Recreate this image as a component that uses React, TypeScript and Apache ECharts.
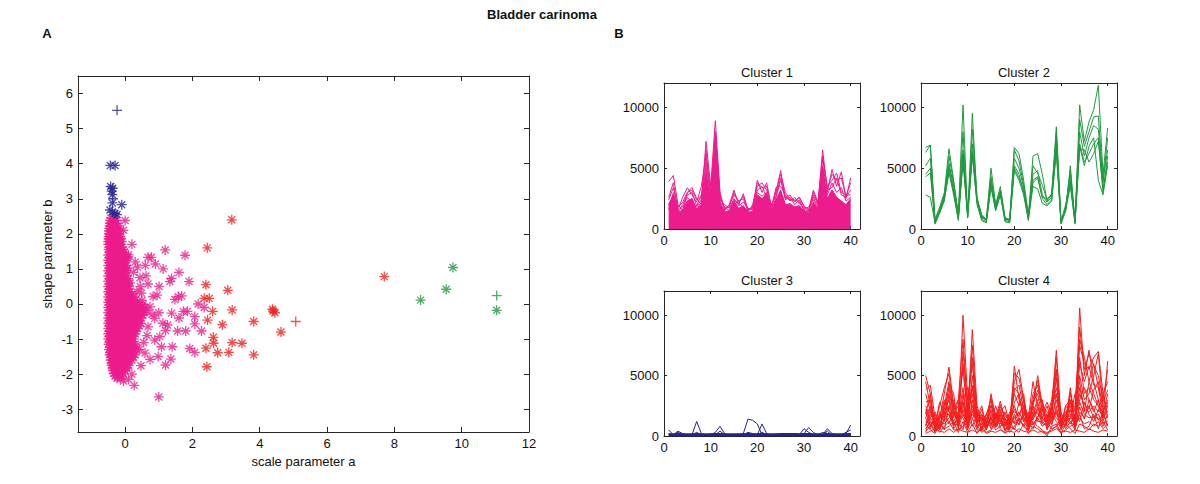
import React, { useEffect, useRef } from "react";
import * as echarts from "echarts";

// ---------- Panel A: scatter data ----------
// dense core of cluster 1 (pink): rows of [shape b, scale a values]
const pinkCoreRows: [number, number[]][] = [
  [2.45, [-0.42, -0.32]],
  [2.3, [-0.45, -0.36, -0.27]],
  [2.15, [-0.47, -0.38, -0.29, -0.21]],
  [2.0, [-0.48, -0.39, -0.3, -0.2]],
  [1.85, [-0.49, -0.4, -0.31, -0.22, -0.13]],
  [1.7, [-0.5, -0.41, -0.32, -0.23, -0.14]],
  [1.55, [-0.49, -0.4, -0.31, -0.22, -0.13, -0.06]],
  [1.4, [-0.5, -0.41, -0.32, -0.23, -0.14, -0.05]],
  [1.25, [-0.5, -0.41, -0.32, -0.23, -0.14, -0.05, 0.02]],
  [1.1, [-0.5, -0.41, -0.32, -0.23, -0.14, -0.05, 0.03]],
  [0.95, [-0.5, -0.41, -0.32, -0.23, -0.14, -0.05, 0.04]],
  [0.8, [-0.5, -0.41, -0.32, -0.23, -0.14, -0.05, 0.05]],
  [0.65, [-0.5, -0.41, -0.32, -0.23, -0.14, -0.05, 0.06]],
  [0.5, [-0.5, -0.41, -0.32, -0.23, -0.14, -0.05, 0.05, 0.12]],
  [0.35, [-0.5, -0.41, -0.32, -0.23, -0.14, -0.05, 0.05, 0.14]],
  [0.2, [-0.5, -0.41, -0.32, -0.23, -0.14, -0.05, 0.05, 0.15, 0.25]],
  [0.05, [-0.5, -0.41, -0.32, -0.23, -0.14, -0.05, 0.05, 0.15, 0.26, 0.36]],
  [-0.1, [-0.5, -0.41, -0.32, -0.23, -0.14, -0.05, 0.05, 0.15, 0.26, 0.37, 0.48, 0.6]],
  [-0.25, [-0.5, -0.41, -0.32, -0.23, -0.14, -0.05, 0.05, 0.15, 0.26, 0.37, 0.48, 0.56]],
  [-0.4, [-0.5, -0.41, -0.32, -0.23, -0.14, -0.05, 0.05, 0.15, 0.26, 0.37, 0.48]],
  [-0.55, [-0.5, -0.41, -0.32, -0.23, -0.14, -0.05, 0.05, 0.15, 0.26, 0.37, 0.46]],
  [-0.7, [-0.5, -0.41, -0.32, -0.23, -0.14, -0.05, 0.05, 0.15, 0.26, 0.37]],
  [-0.85, [-0.5, -0.41, -0.32, -0.23, -0.14, -0.05, 0.05, 0.15, 0.24, 0.3]],
  [-1.0, [-0.5, -0.41, -0.32, -0.23, -0.14, -0.05, 0.05, 0.15, 0.26]],
  [-1.15, [-0.49, -0.4, -0.31, -0.22, -0.13, -0.04, 0.06, 0.16, 0.3]],
  [-1.3, [-0.48, -0.39, -0.3, -0.21, -0.12, -0.03, 0.07, 0.17, 0.26, 0.34]],
  [-1.45, [-0.46, -0.37, -0.28, -0.19, -0.1, -0.01, 0.09, 0.2, 0.3]],
  [-1.6, [-0.43, -0.34, -0.25, -0.16, -0.07, 0.02, 0.12, 0.2]],
  [-1.75, [-0.4, -0.31, -0.22, -0.13, -0.04, 0.05, 0.1]],
  [-1.9, [-0.36, -0.27, -0.18, -0.09, 0.0]],
  [-2.05, [-0.3, -0.2, -0.1]],
];
// staggered in-between rows of the same dense core
const pinkCoreRowsB: [number, number[]][] = [
  [2.38, [-0.44, -0.35, -0.26]],
  [2.22, [-0.46, -0.37, -0.28, -0.2]],
  [2.08, [-0.48, -0.39, -0.3, -0.21, -0.15]],
  [1.92, [-0.49, -0.4, -0.31, -0.22, -0.14]],
  [1.78, [-0.5, -0.41, -0.32, -0.23, -0.15, -0.1]],
  [1.62, [-0.46, -0.37, -0.28, -0.19, -0.1]],
  [1.48, [-0.46, -0.37, -0.28, -0.19, -0.1, -0.02]],
  [1.32, [-0.46, -0.37, -0.28, -0.19, -0.1, -0.01, 0.06]],
  [1.18, [-0.46, -0.37, -0.28, -0.19, -0.1, -0.01]],
  [1.02, [-0.46, -0.37, -0.28, -0.19, -0.1, -0.01, 0.08]],
  [0.88, [-0.46, -0.37, -0.28, -0.19, -0.1, -0.01]],
  [0.72, [-0.46, -0.37, -0.28, -0.19, -0.1, -0.01, 0.09]],
  [0.58, [-0.46, -0.37, -0.28, -0.19, -0.1, -0.01, 0.08]],
  [0.42, [-0.46, -0.37, -0.28, -0.19, -0.1, -0.01, 0.09]],
  [0.28, [-0.46, -0.37, -0.28, -0.19, -0.1, -0.01, 0.1, 0.2]],
  [0.12, [-0.46, -0.37, -0.28, -0.19, -0.1, -0.01, 0.1, 0.2, 0.31]],
  [-0.02, [-0.46, -0.37, -0.28, -0.19, -0.1, -0.01, 0.1, 0.2, 0.31, 0.42, 0.53]],
  [-0.18, [-0.46, -0.37, -0.28, -0.19, -0.1, -0.01, 0.1, 0.2, 0.31, 0.42, 0.53, 0.64]],
  [-0.32, [-0.46, -0.37, -0.28, -0.19, -0.1, -0.01, 0.1, 0.2, 0.31, 0.42, 0.52]],
  [-0.48, [-0.46, -0.37, -0.28, -0.19, -0.1, -0.01, 0.1, 0.2, 0.31, 0.42]],
  [-0.62, [-0.46, -0.37, -0.28, -0.19, -0.1, -0.01, 0.1, 0.2, 0.31, 0.42]],
  [-0.78, [-0.46, -0.37, -0.28, -0.19, -0.1, -0.01, 0.1, 0.2, 0.31]],
  [-0.92, [-0.46, -0.37, -0.28, -0.19, -0.1, -0.01, 0.1, 0.2]],
  [-1.08, [-0.46, -0.37, -0.28, -0.19, -0.1, -0.01, 0.1, 0.2]],
  [-1.22, [-0.45, -0.36, -0.27, -0.18, -0.09, 0.0, 0.11, 0.22, 0.3]],
  [-1.38, [-0.44, -0.35, -0.26, -0.17, -0.08, 0.01, 0.12, 0.24]],
  [-1.52, [-0.42, -0.33, -0.24, -0.15, -0.06, 0.03, 0.14, 0.24]],
  [-1.68, [-0.4, -0.31, -0.22, -0.13, -0.04, 0.06]],
  [-1.82, [-0.37, -0.28, -0.19, -0.1, -0.01, 0.06]],
  [-1.98, [-0.33, -0.24, -0.15, -0.06]],
  [-2.12, [-0.24, -0.14]],
];

// scattered points of cluster 1 (pink): [scale a, shape b]
const pinkOuter: number[][] = [
  [0.0, 2.38], [0.1, 1.4], [1.19, 1.54], [1.78, 1.39], [0.68, 1.33], [0.78, 1.33],
  [0.9, 1.14], [0.37, 1.05], [1.13, 1.0], [0.09, 1.35], [1.6, 0.9], [0.44, 0.75],
  [0.62, 0.8], [1.33, 0.64], [1.38, 0.73], [1.9, 0.64], [1.01, 0.5], [0.68, 0.57],
  [0.49, 0.31], [1.58, 0.21], [1.68, 0.23], [1.48, 0.13], [0.83, 0.21], [2.17, 0.0],
  [2.35, -0.1], [1.73, -0.21], [1.85, -0.21], [1.38, -0.26], [1.0, -0.25], [0.74, -0.08],
  [2.07, -0.36], [1.6, -0.4], [2.07, -0.57], [2.27, -0.77], [1.56, -0.77], [1.8, -0.77],
  [1.2, -0.76], [1.26, -0.6], [1.12, -0.55], [0.68, -0.65], [0.88, -0.41], [1.4, -1.22],
  [1.92, -1.27], [2.07, -1.38], [1.36, -1.57], [1.2, -1.74], [0.98, -1.5], [0.74, -1.58],
  [0.59, -1.4], [0.47, -1.76], [0.27, -2.32], [1.0, -2.65], [1.08, -1.22], [0.88, -1.03],
  [1.03, -0.93], [0.25, 0.9], [0.15, 0.6], [0.35, 0.35], [0.45, 0.5], [0.3, 1.2],
  [0.55, -1.1], [0.42, -1.3], [0.65, -0.9], [0.2, -2.0], [0.1, -2.15], [-0.05, -2.2],
  [0.5, 0.1], [0.8, -0.3], [0.95, 0.25], [0.2, 1.7], [-0.05, 2.1], [0.6, 1.1],
];

// cluster 3 (navy)
const blueStar: number[][] = [
  [-0.44, 3.95], [-0.3, 3.95], [-0.43, 3.35], [-0.37, 3.3], [-0.4, 3.22], [-0.38, 3.12],
  [-0.38, 2.88], [-0.1, 2.83], [-0.45, 2.68], [-0.38, 2.62], [-0.3, 2.58], [-0.24, 2.55],
];
const bluePlus: number[][] = [[-0.24, 5.52], [-0.36, 3.0]];

// cluster 4 (red)
const redStar: number[][] = [
  [3.17, 2.4], [2.44, 1.6], [7.7, 0.78], [2.4, 0.55], [3.05, 0.39], [2.35, 0.16], [2.5, 0.16],
  [2.6, -0.21], [3.18, -0.17], [4.38, -0.15], [4.45, -0.25], [4.4, -0.2], [2.45, -0.46],
  [2.89, -0.59], [3.82, -0.5], [4.63, -0.8], [2.62, -0.95], [2.63, -1.12], [3.18, -1.1],
  [3.47, -1.12], [2.4, -1.26], [2.75, -1.39], [3.08, -1.38], [3.82, -1.45], [2.43, -1.79],
];
const redPlus: number[][] = [[5.07, -0.5]];

// cluster 2 (green)
const greenStar: number[][] = [[8.78, 0.11], [9.54, 0.42], [9.74, 1.04], [11.04, -0.18]];
const greenPlus: number[][] = [[11.04, 0.24]];

const scatterXTicks = [0, 2, 4, 6, 8, 10, 12];
const scatterYTicks = [-3, -2, -1, 0, 1, 2, 3, 4, 5, 6];

// ---------- Panel B: expression profiles over 40 samples ----------
const profileXTicks = [0, 10, 20, 30, 40];
const profileYTicks = [0, 5000, 10000];

const cluster1Fill = [2000, 2800, 1400, 1500, 2300, 2500, 1600, 2000, 4500, 2000, 7500, 2200, 1400, 1500, 2300, 1700, 1900, 1400, 1400, 2800, 2500, 2900, 1500, 2400, 3200, 2000, 2000, 1800, 1900, 1500, 1300, 2200, 1600, 5000, 2500, 3200, 2600, 2300, 2000, 2500];
const cluster1Lines: number[][] = [
  [3900, 4400, 2000, 1500, 3000, 3400, 2500, 2000, 7200, 3500, 8900, 3000, 1500, 2000, 3200, 2000, 2900, 1500, 1800, 4000, 3000, 3800, 1800, 3000, 4800, 2500, 2800, 2200, 2600, 1800, 1500, 3200, 2200, 6500, 3000, 4900, 3500, 4700, 2500, 4200],
  [2600, 3800, 1600, 2600, 3400, 2800, 2200, 3500, 6000, 2800, 8000, 2800, 1600, 2000, 2800, 2300, 2500, 1400, 2000, 3500, 3800, 3200, 2000, 2700, 4200, 2400, 2600, 2000, 2400, 1500, 1400, 2800, 2000, 5800, 3500, 4000, 4600, 3000, 2800, 2800],
  [2000, 2800, 1400, 2000, 2800, 3000, 1900, 2800, 4500, 2200, 6500, 2400, 2000, 1700, 2500, 1900, 2200, 1700, 1600, 3000, 2700, 3000, 1600, 3400, 3500, 2800, 2300, 2600, 2100, 1700, 1800, 2400, 1600, 4500, 2800, 3800, 3000, 3400, 2300, 2600],
  [1800, 2200, 1200, 1600, 2300, 2500, 1600, 2200, 5000, 1800, 7800, 2000, 1300, 1400, 2200, 1600, 1900, 1300, 1500, 2700, 2400, 2900, 1400, 2400, 3000, 2000, 2100, 1800, 1900, 1400, 1300, 2100, 1500, 4800, 2400, 3200, 2600, 2200, 2000, 2400],
  [1600, 3000, 1500, 1800, 2600, 2200, 1800, 2400, 5500, 2500, 7000, 2200, 1800, 1500, 2400, 2100, 1800, 1500, 1800, 3200, 3500, 2600, 1500, 2600, 4000, 2600, 2400, 2400, 2200, 1600, 1500, 2600, 1800, 5200, 3200, 3400, 4200, 2800, 2600, 3200],
  [2400, 3400, 1800, 2200, 3000, 3200, 2400, 2600, 6500, 3000, 7500, 2600, 1700, 1800, 3000, 2200, 2700, 1600, 1700, 3800, 3400, 3500, 1800, 3200, 4500, 3000, 2500, 2300, 2600, 1900, 1600, 3000, 2100, 6000, 3300, 4500, 4000, 4200, 2700, 3800],
];

const cluster2Lines: number[][] = [
  [6300, 6900, 800, 1800, 3000, 6600, 4000, 1200, 10200, 1000, 9500, 2500, 1200, 800, 5000, 2000, 3500, 1000, 600, 6700, 6200, 4000, 1200, 3800, 4200, 2600, 2500, 2800, 8400, 700, 1500, 5200, 600, 10200, 7200, 8800, 9800, 11800, 4500, 8300],
  [5200, 5800, 500, 1500, 2600, 5400, 3500, 900, 6500, 1200, 7000, 2200, 1000, 700, 4000, 1800, 3200, 800, 700, 5800, 5000, 3400, 900, 4500, 4800, 2800, 2200, 2600, 7500, 500, 1800, 4500, 500, 8000, 6000, 7500, 8500, 8200, 4000, 6500],
  [4500, 5000, 400, 1300, 2300, 4900, 3000, 700, 5800, 900, 6200, 2000, 700, 500, 3600, 1500, 2800, 600, 500, 5200, 4500, 3000, 700, 4000, 4300, 2500, 2000, 2400, 7000, 400, 1500, 4000, 400, 7000, 5500, 6200, 7000, 7500, 3000, 6000],
  [4300, 4600, 600, 1600, 2800, 5100, 3200, 1000, 6200, 1300, 6400, 2400, 900, 800, 3700, 1700, 3000, 900, 800, 5000, 4200, 3200, 1000, 6000, 6200, 4500, 2300, 2800, 6500, 600, 2000, 3800, 700, 6600, 6500, 5500, 6200, 7200, 3300, 5500],
  [2800, 2600, 500, 1400, 2500, 4600, 2800, 800, 5500, 1100, 6000, 2300, 800, 600, 3400, 1600, 2900, 700, 600, 4800, 4000, 2800, 800, 3500, 3300, 2100, 1900, 2300, 6200, 500, 1600, 3500, 500, 6800, 5200, 6800, 7500, 4000, 2800, 5200],
  [6700, 6900, 700, 1500, 2700, 6000, 3800, 1100, 8000, 1000, 8200, 2600, 1100, 700, 4300, 1900, 3100, 800, 800, 6500, 5600, 3600, 1000, 5200, 4600, 3600, 2400, 2900, 8000, 600, 1700, 4800, 600, 9000, 6800, 8000, 9200, 9300, 3800, 7500],
];

const cluster3Lines: number[][] = [
  [500, 100, 400, 200, 100, 100, 1200, 200, 100, 100, 300, 800, 200, 100, 100, 100, 200, 1400, 1300, 1000, 100, 100, 100, 100, 100, 100, 100, 100, 100, 200, 700, 300, 100, 100, 600, 200, 100, 100, 200, 900],
  [200, 100, 200, 100, 100, 100, 300, 100, 100, 100, 100, 400, 100, 100, 100, 100, 100, 300, 200, 100, 1000, 200, 100, 100, 100, 200, 200, 100, 100, 600, 300, 100, 100, 300, 200, 100, 100, 100, 300, 500],
  [100, 50, 300, 80, 60, 50, 100, 80, 50, 60, 80, 150, 80, 60, 50, 60, 80, 100, 80, 80, 300, 100, 60, 60, 70, 80, 70, 60, 60, 120, 100, 60, 60, 80, 400, 60, 60, 50, 80, 150],
  [150, 120, 150, 100, 120, 100, 150, 120, 100, 120, 150, 200, 120, 100, 120, 150, 100, 150, 120, 120, 200, 120, 100, 150, 200, 200, 200, 200, 150, 150, 200, 120, 100, 120, 150, 120, 100, 120, 150, 200],
];
const cluster3Base = [110, 110, 120, 110, 110, 110, 120, 110, 110, 110, 120, 130, 110, 110, 110, 110, 110, 120, 110, 110, 130, 110, 110, 110, 110, 120, 120, 120, 110, 120, 120, 110, 110, 110, 120, 110, 110, 110, 110, 130];

const cluster4Lines: number[][] = [
  [5000, 3500, 800, 1500, 3500, 5700, 2500, 1200, 10000, 3000, 6000, 1500, 2500, 800, 3500, 1500, 2900, 1200, 800, 5800, 3000, 2000, 800, 2500, 5000, 2500, 1200, 2500, 7100, 1500, 1200, 4000, 800, 10600, 5000, 7100, 4500, 3000, 1500, 6200],
  [3800, 4200, 1500, 800, 2500, 4500, 1800, 2500, 5500, 1500, 8800, 2500, 1200, 1800, 2500, 1200, 2400, 1700, 1200, 4500, 5500, 3000, 1200, 3500, 4200, 2000, 2800, 1800, 5500, 800, 2500, 3000, 1500, 7500, 6000, 5500, 6500, 7000, 3500, 4500],
  [2500, 1500, 2000, 1000, 2000, 3000, 1000, 1500, 4000, 800, 5000, 1200, 1800, 600, 1500, 2000, 1500, 800, 1500, 3500, 2500, 3500, 600, 2800, 3500, 1500, 1000, 2200, 4000, 2000, 1000, 3500, 2000, 6500, 3500, 4000, 3000, 2500, 2000, 3000],
  [1500, 2500, 500, 2000, 1500, 2500, 3000, 800, 2500, 2000, 3500, 800, 1000, 1500, 2000, 800, 1800, 1500, 500, 2800, 3500, 1500, 1500, 2000, 3000, 3000, 500, 1500, 3000, 1200, 2000, 2500, 800, 5000, 3000, 3500, 5000, 6800, 2500, 2000],
  [800, 1800, 1200, 500, 2800, 2000, 1500, 3000, 1800, 1200, 2500, 1500, 600, 1200, 1000, 1500, 2200, 1000, 1800, 2000, 1800, 2500, 800, 1500, 2200, 1800, 1500, 1000, 2500, 500, 1500, 1800, 1200, 4000, 2200, 2000, 2500, 2000, 3500, 1500],
  [2000, 800, 1500, 1200, 1000, 1500, 2000, 1000, 3500, 800, 2000, 2000, 1500, 500, 1800, 1200, 1000, 2000, 1000, 1500, 2000, 1200, 2000, 1000, 1500, 2500, 2000, 1500, 1800, 1500, 800, 1500, 1500, 3000, 4000, 3000, 2000, 3000, 1200, 2500],
  [1200, 1000, 300, 1800, 1200, 3500, 800, 1800, 1500, 500, 3000, 1000, 2200, 1000, 800, 1800, 1200, 500, 1200, 1200, 1000, 2000, 1000, 2500, 1200, 1200, 800, 2000, 1500, 1000, 1800, 1200, 500, 2000, 1500, 2500, 1500, 1500, 800, 1800],
  [300, 1500, 800, 300, 800, 1200, 500, 500, 800, 1500, 1500, 500, 500, 800, 1200, 500, 800, 1200, 300, 800, 1500, 800, 500, 1200, 800, 500, 0, 800, 1000, 300, 500, 800, 1000, 1500, 1000, 1200, 800, 1200, 600, 1000],
  [4500, 2500, 1000, 2500, 4000, 5200, 2200, 3000, 8000, 2200, 7500, 1800, 1500, 1000, 3200, 1400, 2600, 1400, 1000, 5200, 4800, 2800, 1000, 3000, 4600, 2200, 1500, 2200, 6500, 1200, 1500, 3600, 1200, 9000, 5500, 6800, 5800, 5000, 3000, 5500],
  [1000, 500, 200, 1000, 600, 800, 1200, 300, 1200, 300, 1000, 200, 800, 300, 500, 1000, 600, 200, 800, 600, 300, 1000, 200, 800, 600, 300, 200, 500, 800, 200, 1000, 600, 200, 1000, 800, 500, 1000, 800, 1200, 500],
  [2800, 3000, 600, 1400, 2200, 4000, 1600, 2000, 6000, 1800, 6500, 1200, 1400, 900, 2600, 1600, 2000, 1000, 900, 3800, 4200, 2200, 900, 2600, 3800, 2800, 1600, 1800, 4800, 900, 1400, 3000, 1000, 6000, 4500, 5800, 4200, 4000, 2800, 3800],
  [600, 1200, 400, 800, 1800, 1800, 900, 1000, 2200, 700, 2200, 900, 300, 600, 1500, 700, 1400, 600, 600, 1800, 1200, 1600, 400, 1800, 2000, 1000, 900, 1200, 2000, 600, 900, 2200, 600, 2800, 1800, 1500, 1600, 1800, 1000, 1200],
  [3500, 2000, 1000, 500, 1500, 4200, 3500, 500, 7000, 2500, 4000, 2000, 600, 1800, 3000, 800, 2000, 2500, 1000, 4000, 3500, 1200, 1500, 4500, 2500, 1000, 1500, 3000, 5500, 800, 2500, 2000, 2500, 8000, 6500, 4500, 6000, 4000, 1800, 3500],
  [1800, 3500, 500, 1500, 3000, 2000, 1200, 2000, 3000, 4000, 2500, 1000, 1800, 1200, 1200, 2500, 1200, 800, 2000, 1000, 2800, 2500, 600, 2000, 1800, 1500, 2500, 1200, 3500, 1800, 1200, 1500, 3500, 4500, 2000, 4500, 3500, 2500, 1500, 2800],
  [400, 800, 1500, 1200, 500, 2500, 600, 1200, 500, 2500, 800, 1800, 400, 1500, 600, 1200, 1800, 400, 1200, 500, 1500, 800, 1200, 600, 1500, 800, 1200, 600, 800, 1500, 600, 1200, 800, 1800, 600, 800, 1800, 600, 2000, 800],
  [2200, 1200, 800, 2800, 1800, 3200, 2600, 1500, 2800, 1000, 4200, 600, 1600, 800, 2200, 1000, 1600, 1800, 1400, 2200, 1600, 3000, 1200, 1600, 2800, 1400, 1200, 2600, 3500, 1200, 800, 2800, 1400, 3500, 2600, 2200, 3800, 4500, 2200, 2600],
  [900, 2200, 1000, 1500, 2000, 1000, 2200, 700, 1800, 900, 1800, 1400, 900, 1800, 900, 1900, 700, 1500, 600, 1600, 900, 1800, 1500, 900, 1600, 2200, 600, 1800, 1200, 700, 1500, 1000, 1800, 1200, 2800, 1800, 1200, 2200, 1600, 2000],
  [1500, 600, 1800, 600, 1300, 1800, 900, 1500, 2800, 600, 1400, 2200, 1100, 600, 1600, 800, 1300, 900, 1600, 2500, 1300, 900, 1800, 1300, 2400, 1200, 1800, 900, 2200, 1300, 1800, 1600, 900, 2400, 1400, 3000, 2200, 1300, 1800, 900],
  [200, 400, 600, 400, 300, 600, 300, 600, 400, 300, 500, 300, 600, 200, 400, 300, 500, 300, 400, 300, 600, 400, 300, 500, 300, 400, 300, 400, 600, 300, 400, 300, 500, 400, 300, 600, 400, 300, 500, 400],
];

const PINK = "#EC1C8C";
const NAVY = "#24248E";
const RED = "#F81C1C";
const GREEN = "#1F9A3E";
const FONT = '"Liberation Sans", Arial, Helvetica, sans-serif';
const AXIS = "#262626";

const ASTERISK = "path://M5 0L5 10M0 5L10 5M1.5 1.5L8.5 8.5M8.5 1.5L1.5 8.5";
const PLUS = "path://M5 0L5 10M0 5L10 5";

function axisPair(kind: "x" | "y", grid: number, min: number, max: number, ticks: number[], tickLen: number) {
  const line = { show: true, onZero: false, lineStyle: { color: AXIS, width: 1 } };
  const main = {
    gridIndex: grid,
    type: "value",
    position: kind === "x" ? "bottom" : "left",
    min,
    max,
    axisLine: line,
    axisTick: { show: true, inside: true, length: tickLen, customValues: ticks, lineStyle: { color: AXIS } },
    axisLabel: {
      show: true,
      customValues: ticks,
      color: "#111",
      fontSize: 13,
      fontFamily: FONT,
      margin: 5,
      formatter: (v: number) => String(v),
    },
    splitLine: { show: false },
  };
  const opp = {
    gridIndex: grid,
    type: "value",
    position: kind === "x" ? "top" : "right",
    min,
    max,
    axisLine: line,
    axisTick: { show: true, inside: true, length: tickLen, customValues: ticks, lineStyle: { color: AXIS } },
    axisLabel: { show: false },
    splitLine: { show: false },
  };
  return [main, opp];
}

const toXY = (vals: number[]) => vals.map((v, i) => [i + 1, v]);

export default function App() {
  const ref = useRef<HTMLDivElement>(null);
  useEffect(() => {
    if (!ref.current) return;
    const chart = echarts.init(ref.current, null, { renderer: "svg" });

    const grids = [
      { left: 78, top: 76, width: 451, height: 356 },
      { left: 664, top: 83, width: 196, height: 146 },
      { left: 921, top: 83, width: 196, height: 146 },
      { left: 664, top: 291, width: 196, height: 145 },
      { left: 921, top: 291, width: 196, height: 145 },
    ];

    const xAxes: any[] = [];
    const yAxes: any[] = [];
    xAxes.push(...axisPair("x", 0, -1.4, 12, scatterXTicks, 5));
    yAxes.push(...axisPair("y", 0, -3.65, 6.5, scatterYTicks, 5));
    xAxes[0].name = "scale parameter a";
    xAxes[0].nameLocation = "middle";
    xAxes[0].nameGap = 23;
    xAxes[0].nameTextStyle = { color: "#111", fontSize: 13, fontFamily: FONT };
    yAxes[0].name = "shape parameter b";
    yAxes[0].nameLocation = "middle";
    yAxes[0].nameGap = 24;
    yAxes[0].nameTextStyle = { color: "#111", fontSize: 13, fontFamily: FONT };
    for (let g = 1; g <= 4; g++) {
      xAxes.push(...axisPair("x", g, 0, 42, profileXTicks, 3));
      yAxes.push(...axisPair("y", g, 0, 12000, profileYTicks, 3));
    }

    const toPts = (rows: [number, number[]][]) => rows.flatMap(([y, xs]) => xs.map((x) => [x, y]));
    const pinkCore = [...toPts(pinkCoreRows), ...toPts(pinkCoreRowsB)];

    const scatter = (data: number[][], color: string, symbol: string, bw = 1.3) => ({
      type: "scatter",
      xAxisIndex: 0,
      yAxisIndex: 0,
      data,
      symbol,
      symbolSize: 10,
      silent: true,
      itemStyle: { color: "rgba(0,0,0,0)", borderColor: color, borderWidth: bw },
    });

    const lineSeries = (g: number, vals: number[], color: string, width = 1, area = false) => ({
      type: "line",
      xAxisIndex: 2 * g,
      yAxisIndex: 2 * g,
      data: toXY(vals),
      symbol: "none",
      showSymbol: false,
      silent: true,
      lineStyle: { color, width },
      itemStyle: { color },
      ...(area ? { areaStyle: { color, opacity: 1 } } : {}),
    });

    const series: any[] = [
      scatter(pinkCore, PINK, ASTERISK, 1.5),
      scatter(pinkOuter, PINK, ASTERISK),
      scatter(blueStar, NAVY, ASTERISK),
      scatter(bluePlus, NAVY, PLUS),
      scatter(redStar, RED, ASTERISK),
      scatter(redPlus, RED, PLUS),
      scatter(greenStar, GREEN, ASTERISK),
      scatter(greenPlus, GREEN, PLUS),
      lineSeries(1, cluster1Fill, PINK, 1, true),
      ...cluster1Lines.map((l) => lineSeries(1, l, PINK)),
      ...cluster2Lines.map((l) => lineSeries(2, l, GREEN)),
      ...cluster3Lines.map((l) => lineSeries(3, l, NAVY)),
      lineSeries(3, cluster3Base, NAVY, 3),
      ...cluster4Lines.map((l) => lineSeries(4, l, RED)),
    ];

    const t = (text: string, left: number, top: number, bold = false) => ({
      text,
      left,
      top,
      textAlign: "center",
      textStyle: { color: "#111", fontSize: 13, fontWeight: bold ? "bold" : "normal", fontFamily: FONT },
    });

    chart.setOption({
      animation: false,
      backgroundColor: "#fff",
      title: [
        t("Bladder carinoma", 537, 3, true),
        t("A", 42, 22, true),
        t("B", 614, 22, true),
        t("Cluster 1", 762, 61),
        t("Cluster 2", 1019, 61),
        t("Cluster 3", 762, 269),
        t("Cluster 4", 1019, 269),
      ],
      grid: grids,
      xAxis: xAxes,
      yAxis: yAxes,
      series,
    });
    return () => chart.dispose();
  }, []);
  return <div ref={ref} style={{ position: "fixed", left: 0, top: 0, width: 1200, height: 484 }} />;
}
